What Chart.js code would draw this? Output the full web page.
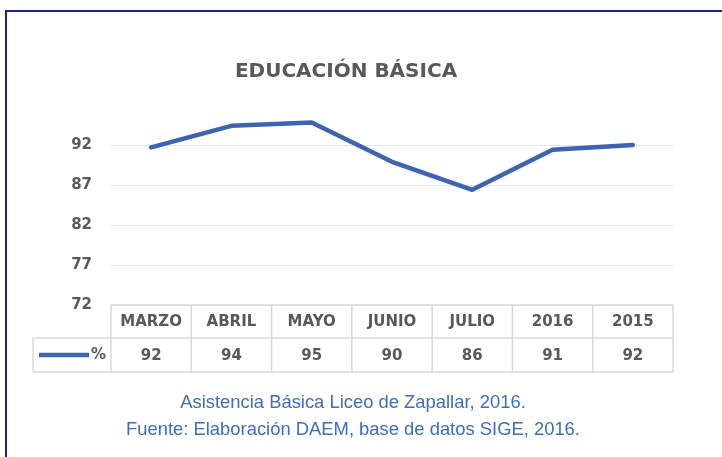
<!DOCTYPE html>
<html>
<head>
<meta charset="utf-8">
<script src="https://cdn.jsdelivr.net/npm/chart.js@4/dist/chart.umd.min.js"></script>
<style>
html,body{margin:0;padding:0;background:#fff;}
body{width:722px;height:457px;position:relative;overflow:hidden;}
#frame{position:absolute;left:5px;top:10px;width:730px;height:460px;border-top:2px solid #20208f;border-left:2px solid #20208f;}
#wrap{position:absolute;left:0;top:0;width:722px;height:457px;}
.cap{position:absolute;left:0;width:706px;text-align:center;font-family:"Liberation Sans",Arial,sans-serif;font-size:18.4px;line-height:27px;color:#3e6dc2;white-space:nowrap;}
</style>
</head>
<body>
<div id="frame"></div>
<div id="wrap"><canvas id="c" width="722" height="457"></canvas></div>
<div class="cap" id="cap1" style="top:388px"></div>
<div class="cap" id="cap2" style="top:415px"></div>
<script>
// ---- data ----
const chartTitle = 'EDUCACIÓN BÁSICA';
const categories = ['MARZO', 'ABRIL', 'MAYO', 'JUNIO', 'JULIO', '2016', '2015'];
const seriesLabel = '%';
const attendance = [91.7, 94.4, 94.8, 89.9, 86.4, 91.4, 92.0];
const yTicks = [72, 77, 82, 87, 92];
const captionLines = ['Asistencia Básica Liceo de Zapallar, 2016.', 'Fuente: Elaboración DAEM, base de datos SIGE, 2016.'];

document.getElementById('cap1').textContent = captionLines[0];
document.getElementById('cap2').textContent = captionLines[1];

const LINE_COLOR = '#3f63b0';
const TEXT_COLOR = '#595959';
const BOLD_FONT = 'bold 15px "DejaVu Sans"';

const dataTablePlugin = {
  id: 'dataTable',
  afterDraw(chart) {
    const ctx = chart.ctx;
    const area = chart.chartArea;
    const x = chart.scales.x;
    const labels = chart.data.labels;
    const values = chart.data.datasets[0].data;
    const n = labels.length;
    const step = x.getPixelForValue(1) - x.getPixelForValue(0);
    const top = area.bottom, r1 = top + 33, r2 = r1 + 34;
    const legendLeft = 33;
    ctx.save();
    ctx.strokeStyle = '#d9d9d9';
    ctx.lineWidth = 1.5;
    ctx.beginPath();
    ctx.moveTo(area.left, top); ctx.lineTo(area.right, top);
    ctx.moveTo(legendLeft, r1); ctx.lineTo(area.right, r1);
    ctx.moveTo(legendLeft, r2); ctx.lineTo(area.right, r2);
    ctx.moveTo(legendLeft, r1); ctx.lineTo(legendLeft, r2);
    for (let i = 0; i <= n; i++) {
      const px = i < n ? x.getPixelForValue(i) - step / 2 : x.getPixelForValue(n - 1) + step / 2;
      ctx.moveTo(px, top); ctx.lineTo(px, r2);
    }
    ctx.stroke();
    ctx.font = BOLD_FONT;
    ctx.fillStyle = TEXT_COLOR;
    ctx.textAlign = 'center';
    ctx.textBaseline = 'middle';
    for (let i = 0; i < n; i++) {
      const cx = x.getPixelForValue(i);
      ctx.fillText(labels[i], cx, (top + r1) / 2 + 1);
      ctx.fillText(String(Math.round(values[i])), cx, (r1 + r2) / 2 + 1);
    }
    // legend key
    const ky = (r1 + r2) / 2;
    ctx.strokeStyle = LINE_COLOR;
    ctx.lineWidth = 4.5;
    ctx.lineCap = 'butt';
    ctx.beginPath();
    ctx.moveTo(39, ky); ctx.lineTo(89, ky);
    ctx.stroke();
    ctx.textAlign = 'right';
    ctx.fillText(chart.data.datasets[0].label, 106, ky);
    ctx.restore();
  }
};

new Chart(document.getElementById('c'), {
  type: 'line',
  data: {
    labels: categories,
    datasets: [{
      label: seriesLabel,
      data: attendance,
      borderColor: LINE_COLOR,
      backgroundColor: LINE_COLOR,
      borderWidth: 4.5,
      pointRadius: 0,
      tension: 0,
      borderCapStyle: 'round',
      borderJoinStyle: 'round',
      fill: false
    }]
  },
  options: {
    responsive: false,
    animation: false,
    layout: { padding: { left: 19, right: 49, top: 0, bottom: 152 } },
    plugins: {
      legend: { display: false },
      tooltip: { enabled: false },
      title: {
        display: true,
        text: chartTitle,
        color: TEXT_COLOR,
        font: { family: 'DejaVu Sans', size: 20, weight: 'bold', lineHeight: 1.2 },
        padding: { top: 60, bottom: 29 }
      }
    },
    scales: {
      x: { type: 'category', display: false, offset: true },
      y: {
        min: 72,
        max: 96,
        afterFit(axis) { axis.width = 92; },
        afterBuildTicks(axis) { axis.ticks = yTicks.map(v => ({ value: v })); },
        border: { display: false },
        grid: { color: '#e4e4e4', lineWidth: 1, drawTicks: false },
        ticks: {
          padding: 19,
          color: TEXT_COLOR,
          font: { family: 'DejaVu Sans', size: 15, weight: 'bold' }
        }
      }
    }
  },
  plugins: [dataTablePlugin]
});
</script>
</body>
</html>
